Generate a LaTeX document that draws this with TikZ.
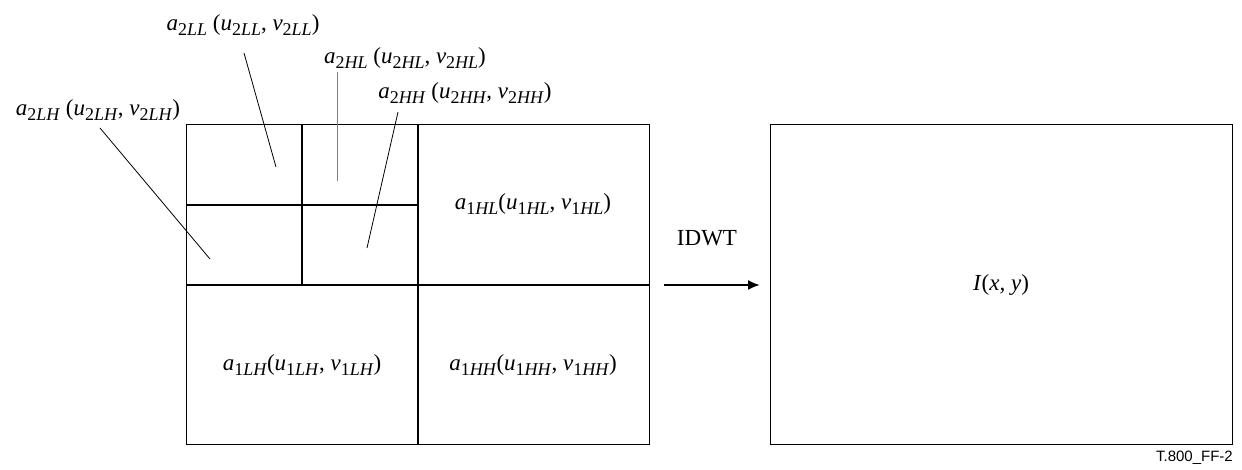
\documentclass[tikz,border=0pt]{standalone}
\usepackage{fontspec}
\setmainfont{Liberation Serif}
\newfontfamily\figsans{Liberation Sans}
\usetikzlibrary{arrows.meta}
% sub-band coefficient label: a_{lev band}(u_{lev band}, v_{lev band})
\newcommand{\sbsym}[3]{\textit{#1}\raisebox{-4.5pt}{\fontsize{18}{21}\selectfont#2\textit{#3}}}
\newcommand{\sbcoef}[3]{\sbsym{a}{#1}{#2}#3(\sbsym{u}{#1}{#2}, \sbsym{v}{#1}{#2})}

\begin{document}
\begin{tikzpicture}[x=1pt,y=-1pt,
  band/.style={font=\fontsize{23}{27}\selectfont, inner sep=1pt},
  lead/.style={line width=0.8pt},
  split/.style={line width=2.2pt}]
  \useasboundingbox (0,0) rectangle (1242,469);
  % decomposed image
  \draw[line width=0.9pt] (186,124) rectangle (649,444);
  \draw[split] (418,124) -- (418,444);
  \draw[split] (186,285) -- (649,285);
  \draw[split] (302,124) -- (302,285);
  \draw[split] (186,205) -- (418,205);
  \node[band] (l1hl) at (533,204) {\sbcoef{1}{HL}{}};
  \node[band] (l1lh) at (302,365) {\sbcoef{1}{LH}{}};
  \node[band] (l1hh) at (533,365) {\sbcoef{1}{HH}{}};
  % level 2 labels with leaders
  \node[band] (l2ll) at (243,25) {\sbcoef{2}{LL}{ }};
  \node[band] (l2hl) at (405,58) {\sbcoef{2}{HL}{ }};
  \node[band] (l2hh) at (465,93) {\sbcoef{2}{HH}{ }};
  \node[band] (l2lh) at (98,110) {\sbcoef{2}{LH}{ }};
  \coordinate (s2ll) at (244,53);  \coordinate (e2ll) at (276,167);
  \coordinate (s2hl) at (337,72);  \coordinate (e2hl) at (337,181);
  \coordinate (s2hh) at (398,112); \coordinate (e2hh) at (367,248);
  \coordinate (s2lh) at (100,128); \coordinate (e2lh) at (210,259);
  \draw[lead] (s2ll) -- (e2ll);
  \draw[lead, gray] (s2hl) -- (e2hl);
  \draw[lead] (s2hh) -- (e2hh);
  \draw[lead] (s2lh) -- (e2lh);
  % transform
  \coordinate (arrs) at (664,285);
  \coordinate (arre) at (760,285);
  \draw[line width=2pt, -{Latex[length=12pt,width=10pt]}] (arrs) -- (arre);
  \node[band] (idwt) at (707,238) {IDWT};
  % reconstructed image
  \draw[line width=0.9pt] (770,124) rectangle (1232,444);
  \node[band] (img) at (1001,285) {\textit{I}(\textit{x, y})};
  \node[font=\figsans\fontsize{15}{18}\selectfont, anchor=east, inner sep=0pt] (tag) at (1233,458) {T.800\_FF-2};
\end{tikzpicture}
\end{document}
